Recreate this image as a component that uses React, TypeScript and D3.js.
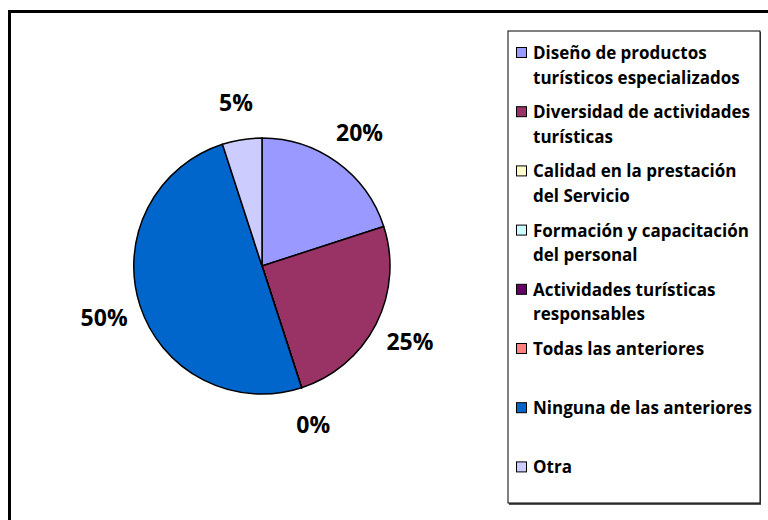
import React from "react";
import * as d3 from "d3";

const categories = [
  "Diseño de productos turísticos especializados",
  "Diversidad de actividades turísticas",
  "Calidad en la prestación del Servicio",
  "Formación y capacitación del personal",
  "Actividades turísticas responsables",
  "Todas las anteriores",
  "Ninguna de las anteriores",
  "Otra",
];
const legendLines = [
  ["Diseño de productos", "turísticos especializados"],
  ["Diversidad de actividades", "turísticas"],
  ["Calidad en la prestación", "del Servicio"],
  ["Formación y capacitación", "del personal"],
  ["Actividades turísticas", "responsables"],
  ["Todas las anteriores"],
  ["Ninguna de las anteriores"],
  ["Otra"],
];
const values = [4, 5, 0, 0, 0, 0, 10, 1];
const colors = [
  "#9999FF",
  "#993366",
  "#FFFFCC",
  "#CCFFFF",
  "#660066",
  "#FF8080",
  "#0066CC",
  "#CCCCFF",
];

const W = 768;
const H = 520;
const cx = 262;
const cy = 266;
const radius = 128;
const labelRadius = 166;
const font = "'Open Sans', 'Noto Sans', sans-serif";

export default function App() {
  const total = d3.sum(values);
  const pie = d3
    .pie<number>()
    .value((d) => d)
    .sort(null);
  const arcs = pie(values);
  const arc = d3.arc<d3.PieArcDatum<number>>().innerRadius(0).outerRadius(radius);
  const labelArc = d3
    .arc<d3.PieArcDatum<number>>()
    .innerRadius(labelRadius)
    .outerRadius(labelRadius);

  // labels of empty slices fall on the same spot, keep one
  const seen = new Set<string>();
  const labels = arcs
    .map((a) => {
      const [x, y] = labelArc.centroid(a);
      return { x, y, text: Math.round((a.value / total) * 100) + "%" };
    })
    .filter((l) => {
      const key = Math.round(l.x) + "," + Math.round(l.y);
      if (seen.has(key)) return false;
      seen.add(key);
      return true;
    });

  const legendX = 508;
  const legendY = 31;
  const itemStep = 59.2;
  const lineStep = 24.5;

  return (
    <svg
      width={W}
      height={H}
      style={{ position: "fixed", left: 0, top: 0, background: "#fff" }}
    >
      <rect x={9.5} y={11.5} width={W + 20} height={H + 20} fill="#fff" stroke="#000" strokeWidth={3} />

      <g transform={`translate(${cx},${cy})`}>
        {arcs.map((a, i) => (
          <path
            key={i}
            d={arc(a) || ""}
            fill={colors[i]}
            stroke="#000"
            strokeWidth={1.5}
            strokeLinejoin="round"
          />
        ))}
        {labels.map((l, i) => (
          <text
            key={i}
            x={l.x}
            y={l.y}
            textAnchor="middle"
            dominantBaseline="central"
            fontFamily={font}
            fontWeight="bold"
            fontSize={23}
            fill="#000"
          >
            {l.text}
          </text>
        ))}
      </g>

      <rect x={legendX + 1} y={legendY + 1} width={252} height={473} fill="#555" />
      <rect x={legendX} y={legendY} width={252} height={472} fill="#fff" stroke="#000" strokeWidth={1} />
      {categories.map((c, i) => {
        const base = legendY + 28 + i * itemStep;
        return (
          <g key={c}>
            <rect
              x={legendX + 8.5}
              y={base - 11.5}
              width={10}
              height={10}
              fill={colors[i]}
              stroke="#000"
              strokeWidth={1}
            />
            <text fontFamily={font} fontWeight="bold" fontSize={17} fill="#000">
              {legendLines[i].map((t, j) => (
                <tspan key={j} x={legendX + 25} y={base + j * lineStep}>
                  {t}
                </tspan>
              ))}
            </text>
          </g>
        );
      })}
    </svg>
  );
}
